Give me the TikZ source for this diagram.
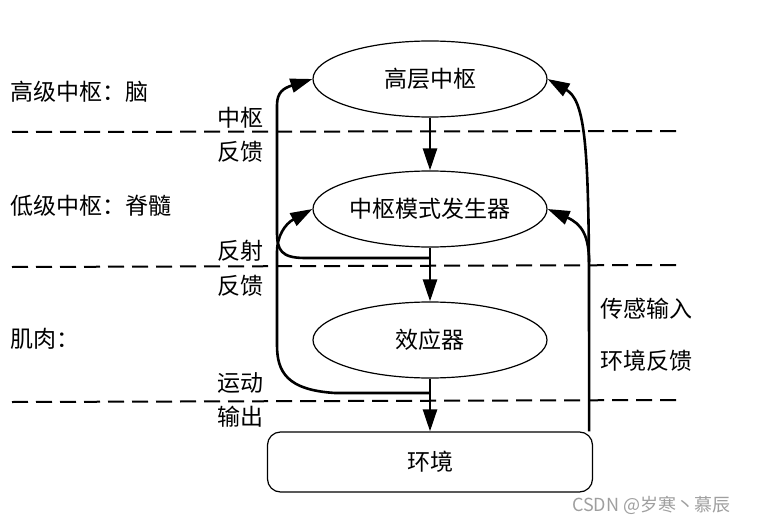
\documentclass[tikz,border=0pt]{standalone}
\usepackage{fontspec}
\setmainfont{Noto Sans CJK SC}
\usetikzlibrary{shapes.geometric,arrows.meta}

\tikzset{
    level/.style={ellipse, draw, line width=1.2pt, minimum width=234pt, minimum height=76pt, inner sep=0pt},
    divider/.style={line width=2pt, dash pattern=on 16pt off 8pt},
    link/.style={-{Triangle[length=22pt,width=14pt]}, line width=2.6pt},
    lab/.style={anchor=west, inner sep=0pt}
}

\begin{document}
\begin{tikzpicture}[x=1pt, y=-1pt, font=\fontsize{23}{27}\selectfont]
    \useasboundingbox (0,0) rectangle (757,524);

    % Levels
    \node[level] (high) at (430,79) {高层中枢};
    \node[level] (cpg) at (430,209) {中枢模式发生器};
    \node[level] (eff) at (430,340) {效应器};
    \node[draw, rounded corners=13pt, line width=1.2pt, minimum width=325pt, minimum height=60pt] (env) at (430,462) {环境};

    % Dividers
    \draw[divider] (12,132) -- (680,131);
    \draw[divider] (12,267) -- (680,265);
    \draw[divider] (12,402) -- (680,400);

    % Downward path
    \draw[link] (high) -- (cpg);
    \draw[link] (cpg) -- (eff);
    \draw[link] (eff) -- (env);

    % Central feedback
    \coordinate (cfb) at (430,258);
    \draw[link] (cfb) -- (305,258) .. controls (281,258) and (277,250) .. (277,232)
        -- (277,105) .. controls (277,92) and (284,88) .. (high.west);

    % Reflex feedback
    \coordinate (rfb) at (430,393);
    \draw[link] (rfb) -- (335,393) .. controls (287,390) and (277,372) .. (277,345)
        -- (277,252) .. controls (277,236) and (285,224) .. (cpg.west);

    % Sensory input
    \coordinate (envtop) at ([xshift=-4pt]env.north east);
    \coordinate (split) at (589,262);
    \draw[link] (envtop) -- (split) .. controls (588,140) and (584,100) .. (high.east);
    \draw[link] (split) .. controls (589,236) and (582,224) .. (cpg.east);

    % Labels
    \node[lab] (brain) at (10,92) {高级中枢：脑};
    \node[lab] (spine) at (10,206) {低级中枢：脊髓};
    \node[lab] (muscle) at (10,339) {肌肉：};
    \node[lab] (cfb1) at (217,118) {中枢};
    \node[lab] (cfb2) at (217,152) {反馈};
    \node[lab] (rfb1) at (217,251) {反射};
    \node[lab] (rfb2) at (217,286) {反馈};
    \node[lab] (out1) at (217,383) {运动};
    \node[lab] (out2) at (217,417) {输出};
    \node[lab] (sens1) at (600,309) {传感输入};
    \node[lab] (sens2) at (600,361) {环境反馈};
    \node[lab, font=\fontsize{18}{20}\selectfont, text=gray!75] (mark) at (572,505) {CSDN @岁寒丶慕辰};
\end{tikzpicture}
\end{document}
